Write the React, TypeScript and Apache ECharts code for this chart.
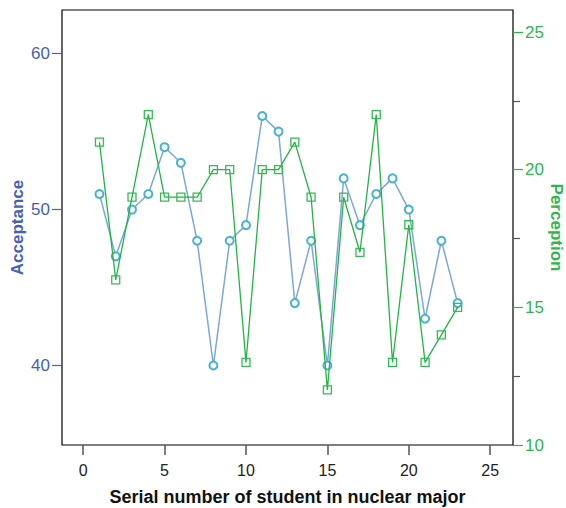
import React, { useEffect, useRef } from "react";
import * as echarts from "echarts";

const students = [1,2,3,4,5,6,7,8,9,10,11,12,13,14,15,16,17,18,19,20,21,22,23];
const acceptance = [51,47,50,51,54,53,48,40,48,49,56,55,44,48,40,52,49,51,52,50,43,48,44];
const perception = [21,16,19,22,19,19,19,20,20,13,20,20,21,19,12,19,17,22,13,18,13,14,15];
const xTicks = [0,5,10,15,20,25];
const leftTicks = [40,50,60];
const rightTicks = [10,15,20,25];
const rightMinorTicks = [12.5,17.5,22.5];

const FONT = "'Liberation Sans', Arial, sans-serif";
const BLUE = "#4660b8";
const GREEN = "#2cb84a";

export default function App() {
  const ref = useRef<HTMLDivElement>(null);
  useEffect(() => {
    if (!ref.current) return;
    const chart = echarts.init(ref.current, null, { renderer: "svg" });
    chart.setOption({
      animation: false,
      textStyle: { fontFamily: FONT },
      grid: { left: 62, top: 10, right: 53, bottom: 63, show: true, borderColor: "#000", borderWidth: 1.2, containLabel: false, outerBoundsMode: "none" },
      xAxis: {
        type: "value", min: -1.3, max: 26.4,
        name: "Serial number of student in nuclear major",
        nameLocation: "middle", nameGap: 43, nameMoveOverlap: false,
        nameTextStyle: { fontFamily: FONT, fontSize: 18, fontWeight: "bold", color: "#111" },
        axisLine: { show: false, onZero: false },
        splitLine: { show: false },
        axisTick: { show: true, length: 10, customValues: xTicks, lineStyle: { color: "#555", width: 1.5 } },
        axisLabel: { customValues: xTicks, margin: 17, fontSize: 16, color: "#222", fontFamily: FONT },
      },
      yAxis: [
        {
          type: "value", min: 34.9, max: 62.8, position: "left",
          name: "Acceptance", nameLocation: "middle", nameGap: 36, nameMoveOverlap: false,
          nameTextStyle: { fontFamily: FONT, fontSize: 17, fontWeight: "bold", color: BLUE },
          axisLine: { show: false, onZero: false }, splitLine: { show: false },
          axisTick: { show: true, length: 10, customValues: leftTicks, lineStyle: { color: BLUE, width: 1.2 } },
          axisLabel: { customValues: leftTicks, margin: 12, fontSize: 17, color: BLUE, fontFamily: FONT },
        },
        {
          type: "value", min: 10, max: 25.8, position: "right",
          name: "Perception", nameLocation: "middle", nameGap: 35, nameRotate: -90, nameMoveOverlap: false,
          nameTextStyle: { fontFamily: FONT, fontSize: 17, fontWeight: "bold", color: GREEN },
          axisLine: { show: false, onZero: false }, splitLine: { show: false },
          axisTick: { show: true, length: 10, customValues: rightTicks, lineStyle: { color: GREEN, width: 1.2 } },
          axisLabel: { customValues: rightTicks, margin: 12, fontSize: 17, color: GREEN, fontFamily: FONT },
        },
        {
          type: "value", min: 10, max: 25.8, position: "right",
          axisLine: { show: false, onZero: false }, splitLine: { show: false },
          axisTick: { show: true, length: 7, customValues: rightMinorTicks, lineStyle: { color: "#555", width: 1.2 } },
          axisLabel: { show: false },
        },
      ],
      series: [
        {
          type: "line", name: "Acceptance", yAxisIndex: 0,
          data: students.map((s, i) => [s, acceptance[i]]),
          symbol: "emptyCircle", symbolSize: 8,
          lineStyle: { color: "#7aa8d8", width: 1.5 },
          itemStyle: { color: "#47b3cf", borderColor: "#47b3cf", borderWidth: 1.5 },
          z: 2,
        },
        {
          type: "line", name: "Perception", yAxisIndex: 1,
          data: students.map((s, i) => [s, perception[i]]),
          symbol: "rect", symbolSize: 8,
          lineStyle: { color: "#22b444", width: 1.3 },
          itemStyle: { color: "rgba(255,255,255,0)", borderColor: "#35bb55", borderWidth: 1.3 },
          z: 3,
        },
      ],
    });
    return () => chart.dispose();
  }, []);
  return <div ref={ref} style={{ position: "absolute", left: 0, top: 0, width: 566, height: 508 }} />;
}
